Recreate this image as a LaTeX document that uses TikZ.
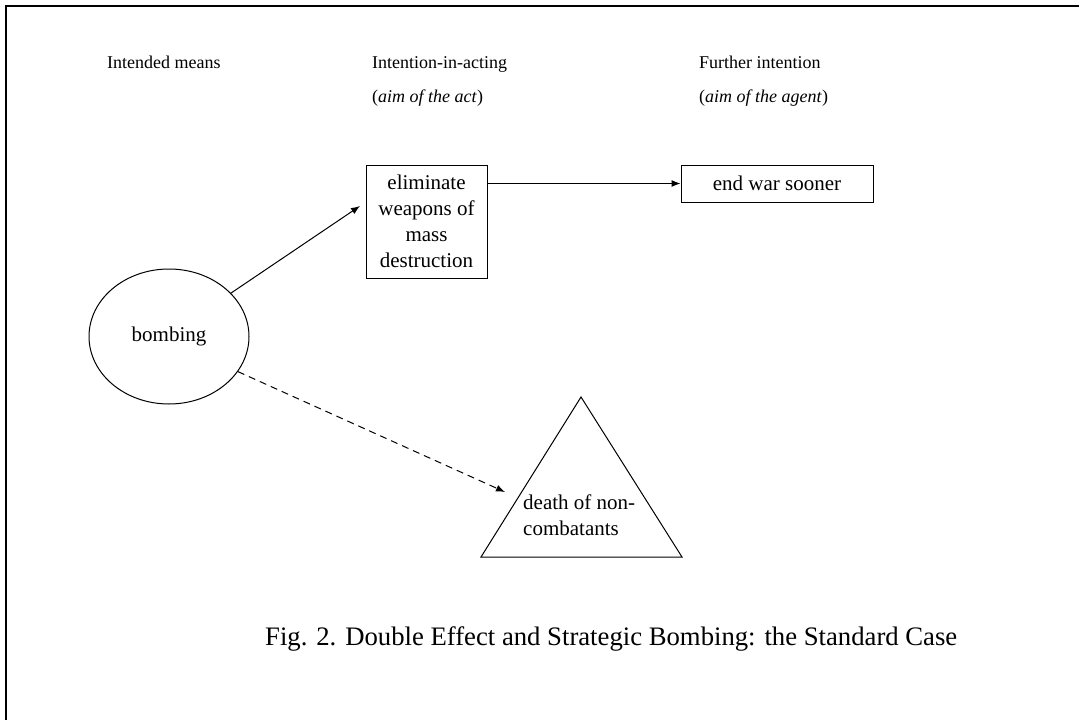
\documentclass[tikz,border=0pt]{standalone}
\usepackage{fontspec}
\setmainfont{Liberation Serif}
\usetikzlibrary{shapes.geometric,arrows.meta}

\begin{document}
\begin{tikzpicture}[x=1pt,y=-1pt,
  heading/.style={anchor=base west,inner sep=0pt,font=\fontsize{18}{22}\selectfont},
  boxtext/.style={font=\fontsize{21}{26}\selectfont},
  stage/.style={draw,line width=1pt,boxtext,align=center,inner sep=0pt},
  arr/.style={line width=1pt,-{Latex[length=9pt,width=7pt]}},
  frameline/.style={line width=2.6pt}
]
\useasboundingbox (0,0) rectangle (1079,720);

% page frame (top and left edges only)
\draw[frameline] (1079,6) -- (6,6) -- (6,720);

% column headings
\node[heading] (h1) at (107,68) {Intended means};
\node[heading] (h2) at (372,68) {Intention-in-acting};
\node[heading] (h2b) at (372,102) {(\textit{aim of the act})};
\node[heading] (h3) at (699,68) {Further intention};
\node[heading] (h3b) at (699,102) {(\textit{aim of the agent})};

% means
\node[ellipse,draw,line width=1pt,boxtext,minimum width=160pt,minimum height=135pt,inner sep=0pt]
  (bomb) at (169,336.5) {bombing};

% intended aim of the act
\node[stage,minimum width=121pt,minimum height=113pt] (elim) at (426.5,221.5)
  {eliminate\\weapons of\\mass\\destruction};

% further intention
\node[stage,minimum width=192pt,minimum height=37pt] (endwar) at (777,183.5) {end war sooner};

% foreseen side effect
\coordinate (tA) at (581,397);
\coordinate (tL) at (481,557);
\coordinate (tR) at (682,557);
\draw[line width=1pt] (tA) -- (tL) -- (tR) -- cycle;
\node[boxtext,anchor=base west,align=left,inner sep=0pt] (death) at (523,535)
  {death of non-\\combatants};

% connectors
\coordinate (elimin) at (360,206);
\coordinate (deathin) at (505,492);
\draw[arr] (bomb.35) -- (elimin);
\draw[arr] (elim.east |- endwar.west) -- (endwar.west);
\draw[arr,dash pattern=on 7pt off 5pt] (bomb.-27) -- (deathin);

% caption
\node[anchor=base west,inner sep=0pt,font=\fontsize{26.7}{30}\selectfont] (cap) at (265,645)
  {Fig. 2. Double Effect and Strategic Bombing: the Standard Case};
\end{tikzpicture}
\end{document}
